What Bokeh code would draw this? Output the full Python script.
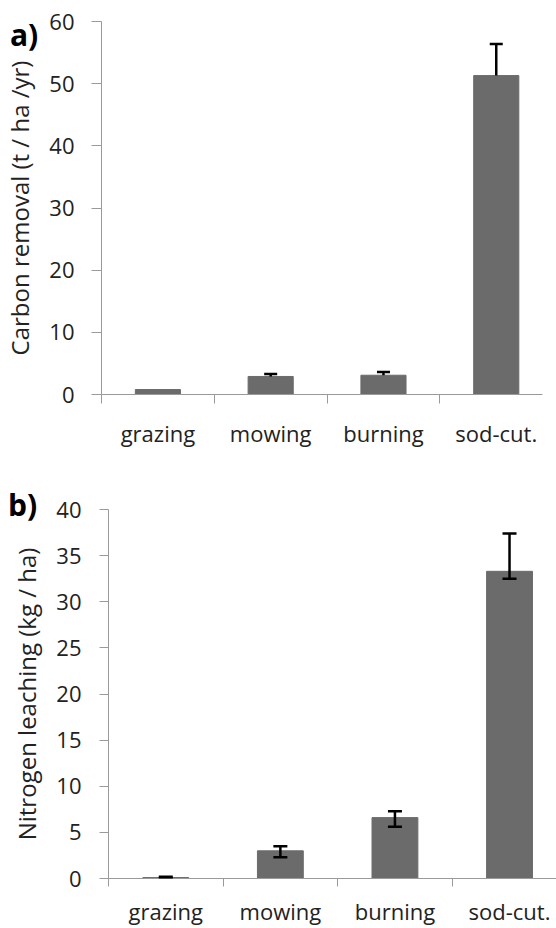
from bokeh.plotting import figure
from bokeh.models import (ColumnDataSource, Whisker, TeeHead, FixedTicker, Range1d, Div)
from bokeh.embed import file_html
from bokeh.resources import INLINE

# ---- data ----
categories = ["grazing", "mowing", "burning", "sod-cut."]
carbon = [0.8, 2.9, 3.1, 51.3]
carbon_err = [0.0, 0.4, 0.5, 5.1]
nitrogen = [0.1, 3.0, 6.6, 33.3]
nitrogen_low = [0.05, 2.3, 5.6, 32.5]
nitrogen_high = [0.2, 3.5, 7.3, 37.4]
carbon_ticks = [0, 10, 20, 30, 40, 50, 60]
nitrogen_ticks = [0, 5, 10, 15, 20, 25, 30, 35, 40]

FONT = "Open Sans"
TXT = "#222222"
AX = "#9a9a9a"
BAR = "#6b6b6b"

xs = [i + 0.5 for i in range(len(categories))]


def base_fig(height, ymax, yticks, b_top, b_bottom, b_left, b_right, tick_out, standoff,
             x_standoff, ylabel, ylabel_standoff):
    p = figure(width=556, height=height, output_backend="svg", toolbar_location=None,
               x_range=Range1d(0, 3.91), y_range=Range1d(0, ymax),
               min_border_top=b_top, min_border_bottom=b_bottom,
               min_border_left=b_left, min_border_right=b_right)
    p.outline_line_color = None
    p.grid.visible = False
    p.background_fill_color = "white"
    p.border_fill_color = "white"
    # x axis: labels at bar centres, divider ticks between categories
    xa = p.xaxis[0]
    xa.ticker = FixedTicker(ticks=xs, minor_ticks=[0, 1, 2, 3])
    xa.major_label_overrides = {x: c for x, c in zip(xs, categories)}
    xa.major_label_text_font = FONT
    xa.major_label_text_font_size = "22px"
    xa.major_label_text_color = TXT
    xa.major_label_standoff = x_standoff
    xa.major_tick_in = 0
    xa.major_tick_out = 0
    xa.major_tick_line_color = None
    xa.minor_tick_in = 0
    xa.minor_tick_out = tick_out
    xa.minor_tick_line_color = AX
    xa.axis_line_color = AX
    # y axis
    ya = p.yaxis[0]
    ya.ticker = FixedTicker(ticks=yticks)
    ya.major_tick_in = 0
    ya.major_tick_out = tick_out + 1
    ya.minor_tick_line_color = None
    ya.axis_line_color = AX
    ya.major_tick_line_color = AX
    ya.major_label_standoff = standoff
    ya.major_label_text_font = FONT
    ya.major_label_text_font_size = "22px"
    ya.major_label_text_color = TXT
    ya.axis_label = ylabel
    ya.axis_label_standoff = ylabel_standoff
    ya.axis_label_text_font = FONT
    ya.axis_label_text_font_size = "24px"
    ya.axis_label_text_font_style = "normal"
    ya.axis_label_text_color = TXT
    return p


def panel_letter(text, left, top):
    return Div(text=text, width=40, height=36,
               styles={"position": "absolute", "left": f"{left}px", "top": f"{top}px",
                       "font-family": FONT, "font-weight": "bold", "font-size": "30px",
                       "line-height": "1", "color": "black", "margin": "0",
                       "padding": "0"})


# ---------- a) carbon removal ----------
p1 = base_fig(460, 60, carbon_ticks, 21, 66, 99, 14, 9, 17, 14,
              "Carbon removal (t / ha /yr)", 10)
src1 = ColumnDataSource(dict(x=xs, top=carbon))
p1.vbar(x="x", top="top", width=0.4, bottom=0, source=src1,
        fill_color=BAR, line_color=BAR)
ex1 = [x for x, e in zip(xs, carbon_err) if e > 0]
lo1 = [v for v, e in zip(carbon, carbon_err) if e > 0]
up1 = [v + e for v, e in zip(carbon, carbon_err) if e > 0]
esrc1 = ColumnDataSource(dict(x=ex1, lower=lo1, upper=up1))
p1.add_layout(Whisker(source=esrc1, base="x", lower="lower", upper="upper",
                      dimension="height", line_color="black", line_width=2.5,
                      level="overlay",
                      upper_head=TeeHead(size=13, line_color="black", line_width=2.5),
                      lower_head=None))

# ---------- b) nitrogen leaching ----------
p2 = base_fig(468, 40, nitrogen_ticks, 49, 50, 108, 0, 8, 18, 9,
              "Nitrogen leaching (kg / ha)", 10)
src2 = ColumnDataSource(dict(x=xs, top=nitrogen))
p2.vbar(x="x", top="top", width=0.4, bottom=0, source=src2,
        fill_color=BAR, line_color=BAR)
esrc2 = ColumnDataSource(dict(x=xs, lower=nitrogen_low, upper=nitrogen_high))
p2.add_layout(Whisker(source=esrc2, base="x", lower="lower", upper="upper",
                      dimension="height", line_color="black", line_width=2.5,
                      level="overlay",
                      upper_head=TeeHead(size=14, line_color="black", line_width=2.5),
                      lower_head=TeeHead(size=14, line_color="black", line_width=2.5)))

da = panel_letter("a)", 10, 20)
db = panel_letter("b)", 8, 490)

open("out.html", "w").write(file_html([p1, p2, da, db], INLINE))
